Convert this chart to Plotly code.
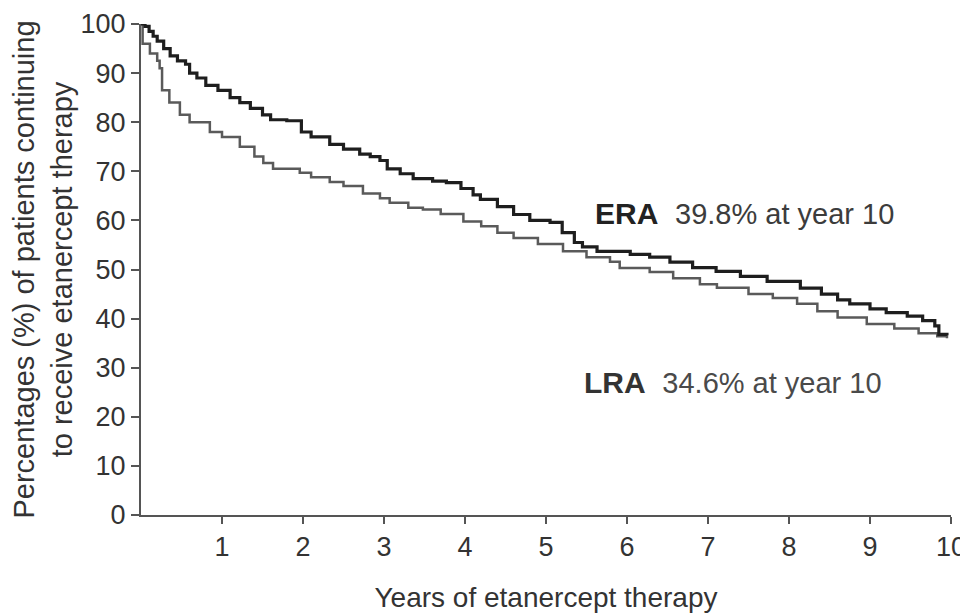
import plotly.graph_objects as go

# Kaplan-Meier style step data
era_years = [0, 0.05, 0.1, 0.15, 0.2, 0.28, 0.36, 0.45, 0.55, 0.6, 0.69, 0.8, 0.95, 1.1, 1.22,
             1.35, 1.5, 1.6, 1.8, 1.98, 2.1, 2.33, 2.5, 2.7, 2.83, 2.95, 3.04, 3.2, 3.36, 3.6,
             3.77, 3.95, 4.1, 4.19, 4.4, 4.6, 4.8, 5.05, 5.2, 5.35, 5.45, 5.63, 6.04, 6.28,
             6.53, 6.81, 7.1, 7.4, 7.73, 8.14, 8.4, 8.6, 8.75, 9.0, 9.2, 9.46, 9.65, 9.8,
             9.85, 9.95]
era_pct = [100, 99.5, 98.5, 97.5, 96.5, 95, 93.5, 92.5, 91.8, 90, 89, 87.5, 86.5, 85, 84,
           82.8, 81.5, 80.5, 80.3, 78, 77, 75.5, 74.5, 73.5, 73, 72.2, 70.5, 69.5, 68.5, 68,
           67.7, 66.5, 65.2, 64.3, 62.8, 61.2, 60, 59.6, 57.5, 55.5, 54.6, 53.7, 53.1, 52.5,
           51.5, 50.4, 49.6, 48.6, 47.6, 46.2, 45, 43.8, 43, 42, 41.2, 40.5, 39.6, 38.5,
           36.8, 36.6]

lra_years = [0, 0.02, 0.11, 0.2, 0.23, 0.26, 0.35, 0.48, 0.6, 0.85, 1.0, 1.22, 1.4, 1.51,
             1.63, 1.96, 2.1, 2.33, 2.5, 2.74, 2.95, 3.07, 3.3, 3.48, 3.7, 3.98, 4.2, 4.4,
             4.6, 4.9, 5.21, 5.5, 5.79, 5.91, 6.28, 6.57, 6.9, 7.11, 7.5, 7.8, 8.1, 8.35,
             8.6, 8.96, 9.3, 9.6, 9.83, 9.95]
lra_pct = [100, 96, 94, 92.5, 91, 86.5, 84, 81.5, 80, 78, 77, 75, 73, 71.7,
           70.5, 69.7, 68.8, 67.8, 67, 65.5, 64.5, 63.6, 62.6, 62.2, 61.3, 59.8, 58.8, 57.5,
           56.4, 55.2, 53.7, 52.5, 51.6, 50.3, 49.5, 48.2, 47, 46.3, 45, 44.2, 43, 41.5,
           40.2, 38.9, 38, 37, 36.4, 36]

x_ticks = [1, 2, 3, 4, 5, 6, 7, 8, 9, 10]
y_ticks = [0, 10, 20, 30, 40, 50, 60, 70, 80, 90, 100]

FONT = "Liberation Sans, Arial, Helvetica, sans-serif"

fig = go.Figure()
fig.add_trace(go.Scatter(x=lra_years, y=lra_pct, mode="lines", line=dict(shape="hv", color="#5a5a5a", width=2.5),
                         name="LRA", showlegend=False, hoverinfo="skip"))
fig.add_trace(go.Scatter(x=era_years, y=era_pct, mode="lines", line=dict(shape="hv", color="#1e1e1e", width=3.2),
                         name="ERA", showlegend=False, hoverinfo="skip"))

fig.add_annotation(x=5.58, y=61.4, xref="x", yref="y", xanchor="left", yanchor="middle", showarrow=False,
                   text="<b>ERA</b>&nbsp;&nbsp;<span style='font-size:29px;color:#3c3c3c'>39.8% at year 10</span>",
                   font=dict(family=FONT, size=30, color="#222222"))
fig.add_annotation(x=5.45, y=26.9, xref="x", yref="y", xanchor="left", yanchor="middle", showarrow=False,
                   text="<b>LRA</b>&nbsp;&nbsp;<span style='font-size:29px;color:#4a4a4a'>34.6% at year 10</span>",
                   font=dict(family=FONT, size=30, color="#333333"))

# The page body adds an 8px offset, so margins are shifted by 8px accordingly.
fig.update_layout(
    width=960, height=605,
    margin=dict(l=133, r=17, t=16, b=98),
    paper_bgcolor="white", plot_bgcolor="white",
    font=dict(family=FONT, size=27, color="#333333"),
)
fig.update_xaxes(range=[0, 10], tickvals=x_ticks, ticktext=[str(v) for v in x_ticks],
                 showgrid=False, zeroline=False, showline=True, linecolor="#555555", linewidth=2,
                 ticks="outside", ticklen=7, tickwidth=2, tickcolor="#555555", automargin=False,
                 ticklabeloverflow="allow",
                 title=dict(text="Years of etanercept therapy", font=dict(size=28), standoff=27),
                 tickfont=dict(size=27))
fig.update_yaxes(range=[0, 100], tickvals=y_ticks, ticktext=[str(v) for v in y_ticks],
                 showgrid=False, zeroline=False, showline=True, linecolor="#555555", linewidth=2,
                 ticks="outside", ticklen=8, tickwidth=2, tickcolor="#555555", automargin=False,
                 ticklabeloverflow="allow",
                 title=dict(text="Percentages (%) of patients continuing<br>to receive etanercept therapy",
                            font=dict(size=29), standoff=8),
                 tickfont=dict(size=27))

fig.write_html("out.html")
